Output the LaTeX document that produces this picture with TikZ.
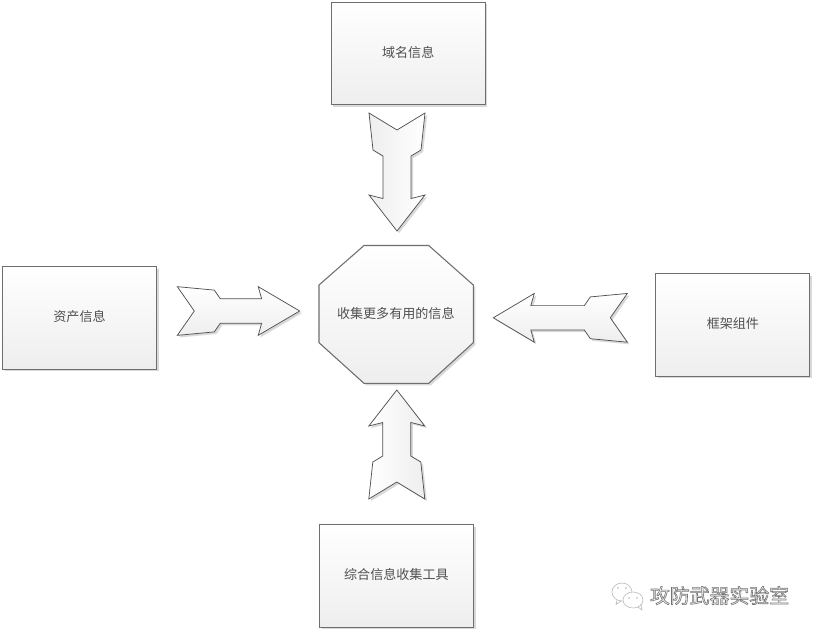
\documentclass[tikz,border=0pt]{standalone}
\usepackage{fontspec}
\usepackage{tikz}
\usetikzlibrary{shadows}
\newfontfamily\cjk{Noto Sans CJK SC}
\definecolor{edgec}{HTML}{6E6E6E}
\definecolor{inkc}{HTML}{505050}
\definecolor{fadec}{HTML}{EEEEEE}
\definecolor{markc}{HTML}{B4B4B4}
\tikzset{
  softshadow/.style={drop shadow={shadow xshift=1.6pt,shadow yshift=-1.6pt,fill=black,opacity=0.15}},
  infobox/.style={draw=edgec,line width=0.8pt,top color=white,bottom color=fadec,softshadow,
    minimum width=115.5pt,minimum height=77pt,inner sep=0pt,text=inkc,text height=7.5pt,text depth=2pt,
    font=\cjk\fontsize{9.8}{11}\selectfont},
  flowarrow/.style={draw=inkc,line width=0.55pt,shading=axis,left color=white,right color=fadec,softshadow},
}
\begin{document}
\begin{tikzpicture}[x=0.75pt,y=-0.75pt]
  \useasboundingbox (0,0) rectangle (816,632);
  \fill[white] (0,0) rectangle (816,632);
  % centre
  \draw[draw=edgec,line width=0.8pt,top color=white,bottom color=fadec,softshadow]
    (364,245.5) -- (428.7,245.5) -- (473.3,285) -- (473.3,342.7) -- (428.7,383.3) -- (364,383.3) -- (319,342.7) -- (319,285) -- cycle;
  \node[text=inkc,font=\cjk\fontsize{9.8}{11}\selectfont] (goal) at (395.8,313.7) {收集更多有用的信息};
  % four sources
  \node[infobox] (domain) at (408.2,53.4) {域名信息};
  \node[infobox] (asset) at (79.5,317.8) {资产信息};
  \node[infobox] (frame) at (732.9,325) {框架组件};
  \node[infobox] (tool) at (396.4,575.7) {综合信息收集工具};
  % arrows: x/y of the tail, turn, length, head length, width scale
  \foreach \ax/\ay/\turn/\len/\hd/\ws/\shade in {397/113/-90/118/36/1/270,396.8/499/90/109/36/1/90,177.3/311/0/122.4/41.5/0.87/0,627.3/317.8/180/134/41/0.87/0} {
    \draw[flowarrow,shading angle=\shade,shift={(\ax,\ay)},rotate=\turn,yscale=\ws]
      (0,-28) -- (17,0) -- (0,28) -- (37,24) -- (43,14) -- (\len-\hd+3.5,14) -- (\len-\hd,28) -- (\len,0)
      -- (\len-\hd,-28) -- (\len-\hd+3.5,-14) -- (43,-14) -- (37,-24) -- cycle;
  }
  % mark
  \draw[markc,line width=0.4pt,fill=white] (622,592) ellipse (10 and 9);
  \draw[markc,line width=0.4pt] (617,600) -- (616,604.5) -- (621,601);
  \draw[markc,line width=0.4pt,fill=white] (633,600) ellipse (10 and 8);
  \draw[markc,line width=0.4pt] (638,607) -- (642,610) -- (641,604);
  \foreach \dx/\dy in {618/588,626/588,629/598,637/598} {\fill[markc] (\dx,\dy) circle (0.9);}
  \node[inner sep=0pt,font=\cjk\fontsize{14.9}{16}\selectfont] (lab) at (719.5,595.5)
    {\special{pdf:code 2 Tr 0.45 w 0.45 0.45 0.45 RG 0.96 0.96 0.96 rg}攻防武器实验室\special{pdf:code 0 Tr}};
\end{tikzpicture}
\end{document}
